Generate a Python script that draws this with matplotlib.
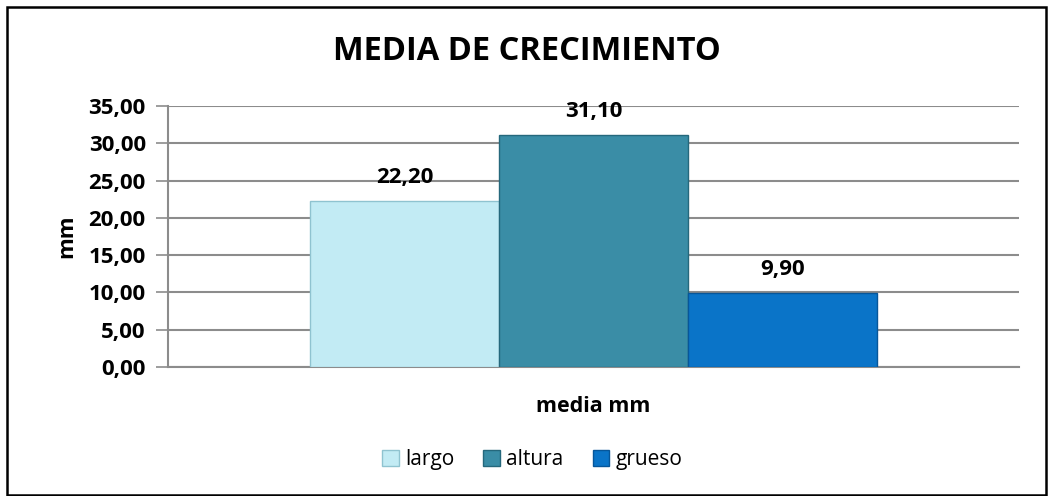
import matplotlib
matplotlib.use("Agg")
import matplotlib.pyplot as plt
from matplotlib.patches import Rectangle

# datos
series = ["largo", "altura", "grueso"]
valores = [22.20, 31.10, 9.90]
colores = ["#C2EBF4", "#3A8DA6", "#0A74C8"]
bordes = ["#8FC3D0", "#25687C", "#06569A"]
categoria = "media mm"
yticks = [0, 5, 10, 15, 20, 25, 30, 35]

plt.rcParams["font.family"] = ["Open Sans", "DejaVu Sans"]

fig = plt.figure(figsize=(10.48, 4.96), dpi=100)
ax = fig.add_axes([0.1603, 0.2601, 0.812, 0.5262])

pos = [-1, 0, 1]
for p, v, c, b, nombre in zip(pos, valores, colores, bordes, series):
    ax.bar(p, v, width=1.0, color=c, edgecolor=b, linewidth=1.0, label=nombre, zorder=3)
    ax.text(p, v + 1.75, f"{v:.2f}".replace(".", ","), ha="center", va="bottom",
            fontsize=16, fontweight="bold", zorder=4)

ax.set_xlim(-2.25, 2.25)
ax.set_ylim(0, 35)
ax.set_yticks(yticks)
ax.set_yticklabels([f"{t:.2f}".replace(".", ",") for t in yticks], fontsize=16, fontweight="bold")
ax.set_xticks([0])
ax.set_xticklabels([categoria], fontsize=15.5, fontweight="bold")
ax.tick_params(axis="x", length=0, pad=21)
ax.tick_params(axis="y", length=9, width=1.2, color="#8C8C8C", pad=7)

ax.grid(axis="y", color="#8C8C8C", linewidth=1.5, zorder=0)
for s in ["top", "right"]:
    ax.spines[s].set_visible(False)
ax.spines["left"].set_color("#8C8C8C")
ax.spines["left"].set_linewidth(1.5)
ax.spines["bottom"].set_color("#8C8C8C")
ax.spines["bottom"].set_linewidth(1.5)

ax.set_ylabel("mm", fontsize=16, fontweight="bold", labelpad=8)

fig.text(0.503, 0.897, "MEDIA DE CRECIMIENTO", ha="center", va="center",
         fontsize=23.5, fontweight="bold")

leg = fig.legend(loc="center", bbox_to_anchor=(0.508, 0.073), ncol=3, frameon=False,
                 fontsize=15, handlelength=0.8, handleheight=0.8, handletextpad=0.3,
                 columnspacing=1.4)

fig.patches.append(Rectangle((0.0067, 0.002), 0.9914, 0.984, transform=fig.transFigure,
                             fill=False, edgecolor="black", linewidth=1.8))

fig.savefig("out.png", dpi=100)
